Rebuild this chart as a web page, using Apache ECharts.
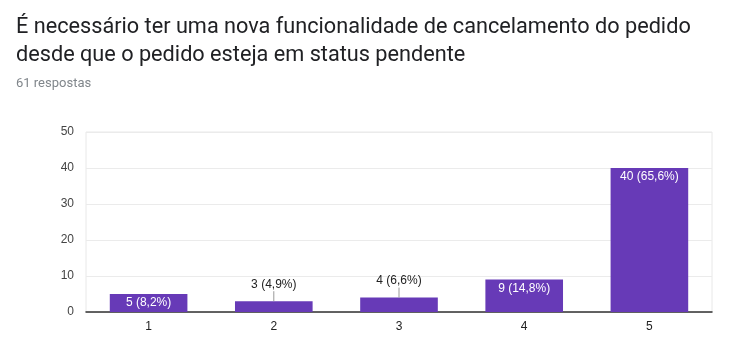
<!DOCTYPE html>
<html>
<head>
<meta charset="utf-8">
<script src="https://cdn.jsdelivr.net/npm/echarts@6/dist/echarts.min.js"></script>
<style>
  html, body { margin: 0; padding: 0; background: #fff; }
  #chart { width: 739px; height: 348px; }
</style>
</head>
<body>
<div id="chart"></div>
<script>
// Survey answers on a 1–5 scale
const categories = ['1', '2', '3', '4', '5'];
const counts = [5, 3, 4, 9, 40];
const percents = ['8,2%', '4,9%', '6,6%', '14,8%', '65,6%'];
const outsideLabel = [false, true, true, false, false];
const yTicks = [0, 10, 20, 30, 40, 50];

const titleLines = [
  'É necessário ter uma nova funcionalidade de cancelamento do pedido',
  'desde que o pedido esteja em status pendente'
];
const subtitle = '61 respostas';

const purple = '#673ab7';
const leaderPx = 10;

const barData = counts.map((v, i) => ({
  value: v,
  label: outsideLabel[i]
    ? { position: 'top', distance: leaderPx + 1, color: '#222' }
    : { position: 'insideTop', distance: 3, color: '#fff' }
}));

const chart = echarts.init(document.getElementById('chart'), null, { renderer: 'canvas' });
chart.setOption({
  animation: false,
  backgroundColor: '#fff',
  title: [
    {
      text: titleLines.join('\n'),
      left: 16, top: 14, padding: 0,
      textStyle: { fontFamily: 'Roboto', fontSize: 21.7, fontWeight: 'normal', color: '#202124', lineHeight: 28 }
    },
    {
      text: subtitle,
      left: 16, top: 77, padding: 0,
      textStyle: { fontFamily: 'Roboto', fontSize: 13, fontWeight: 'normal', color: '#80868b' }
    }
  ],
  grid: { left: 86, right: 27, top: 132, bottom: 36, show: true, borderColor: '#e8e8e8', borderWidth: 1 },
  xAxis: {
    type: 'category',
    data: categories,
    axisLine: { show: true, lineStyle: { color: '#333', width: 1.5 } },
    axisTick: { show: false },
    axisLabel: { color: '#222', fontFamily: 'Arial, Liberation Sans', fontSize: 12, margin: 9 }
  },
  yAxis: {
    type: 'value',
    min: yTicks[0], max: yTicks[yTicks.length - 1], interval: 10,
    axisLine: { show: false },
    axisTick: { show: false },
    axisLabel: { color: '#444', fontFamily: 'Arial, Liberation Sans', fontSize: 12, margin: 12 },
    splitLine: { lineStyle: { color: '#ebebeb' } }
  },
  series: [
    {
      type: 'bar',
      data: barData,
      barWidth: '62%',
      itemStyle: { color: purple },
      label: {
        show: true,
        fontFamily: 'Arial, Liberation Sans',
        fontSize: 12,
        formatter: p => p.value + ' (' + percents[p.dataIndex] + ')'
      },
      z: 2
    },
    {
      // leader lines joining the outside labels to their bars
      type: 'custom',
      data: counts.map((v, i) => [i, v]),
      renderItem: (params, api) => {
        const idx = params.dataIndex;
        if (!outsideLabel[idx]) return null;
        const p = api.coord([api.value(0), api.value(1)]);
        return {
          type: 'line',
          shape: { x1: p[0], y1: p[1], x2: p[0], y2: p[1] - leaderPx },
          style: { stroke: '#999', lineWidth: 1 }
        };
      },
      z: 3,
      silent: true
    }
  ]
});
</script>
</body>
</html>
